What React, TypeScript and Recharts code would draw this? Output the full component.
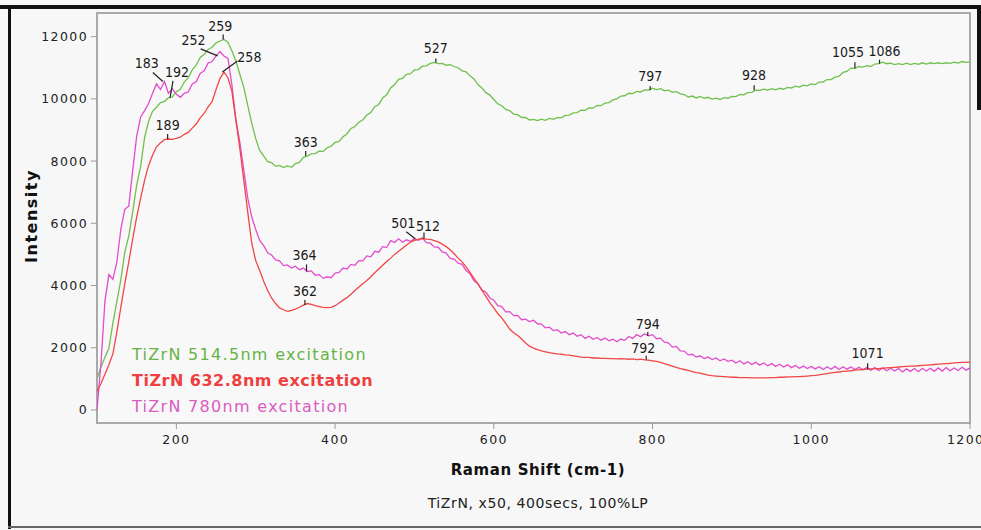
import React from 'react';
import { LineChart, Line, XAxis, YAxis, ReferenceArea, ReferenceDot } from 'recharts';

// Raman shift grid (cm-1)
const ramanShift = [
  100, 105, 110, 115, 120, 125, 130, 135, 140, 145,
  150, 155, 160, 165, 170, 175, 180, 185, 190, 195,
  200, 205, 210, 215, 220, 225, 230, 235, 240, 245,
  250, 255, 260, 265, 270, 275, 280, 285, 290, 295,
  300, 305, 310, 315, 320, 325, 330, 335, 340, 345,
  350, 355, 360, 365, 370, 375, 380, 385, 390, 395,
  400, 405, 410, 415, 420, 425, 430, 435, 440, 445,
  450, 455, 460, 465, 470, 475, 480, 485, 490, 495,
  500, 505, 510, 515, 520, 525, 530, 535, 540, 545,
  550, 555, 560, 565, 570, 575, 580, 585, 590, 595,
  600, 605, 610, 615, 620, 625, 630, 635, 640, 645,
  650, 655, 660, 665, 670, 675, 680, 685, 690, 695,
  700, 705, 710, 715, 720, 725, 730, 735, 740, 745,
  750, 755, 760, 765, 770, 775, 780, 785, 790, 795,
  800, 805, 810, 815, 820, 825, 830, 835, 840, 845,
  850, 855, 860, 865, 870, 875, 880, 885, 890, 895,
  900, 905, 910, 915, 920, 925, 930, 935, 940, 945,
  950, 955, 960, 965, 970, 975, 980, 985, 990, 995,
  1000, 1005, 1010, 1015, 1020, 1025, 1030, 1035, 1040, 1045,
  1050, 1055, 1060, 1065, 1070, 1075, 1080, 1085, 1090, 1095,
  1100, 1105, 1110, 1115, 1120, 1125, 1130, 1135, 1140, 1145,
  1150, 1155, 1160, 1165, 1170, 1175, 1180, 1185, 1190, 1195,
  1200,
];

// TiZrN, 514.5 nm excitation
const green514 = [
  1000, 1380, 1690, 1980, 2790, 3470, 4180, 5070, 5590, 6370,
  7230, 7830, 8760, 9280, 9600, 9730, 9880, 9920, 10030, 10060,
  10230, 10310, 10540, 10680, 10930, 11080, 11330, 11430, 11590, 11660,
  11800, 11860, 11910, 11820, 11540, 11220, 10790, 10360, 9780, 9210,
  8720, 8340, 8170, 7980, 7950, 7830, 7860, 7790, 7850, 7800,
  7920, 7960, 8120, 8160, 8230, 8240, 8320, 8310, 8430, 8480,
  8600, 8630, 8780, 8880, 9050, 9110, 9250, 9330, 9480, 9560,
  9750, 9820, 10030, 10130, 10350, 10460, 10630, 10660, 10790, 10810,
  10930, 10940, 11050, 11060, 11140, 11170, 11130, 11140, 11080, 11100,
  11040, 11000, 10900, 10870, 10740, 10640, 10460, 10350, 10200, 10120,
  9980, 9840, 9780, 9660, 9620, 9510, 9490, 9400, 9400, 9320,
  9340, 9300, 9350, 9310, 9370, 9340, 9400, 9390, 9470, 9480,
  9550, 9560, 9640, 9630, 9710, 9700, 9790, 9780, 9860, 9880,
  9970, 10000, 10090, 10100, 10180, 10170, 10240, 10220, 10290, 10280,
  10340, 10300, 10330, 10260, 10280, 10210, 10230, 10160, 10140, 10060,
  10090, 10030, 10080, 10020, 10050, 9990, 10020, 9980, 10040, 10020,
  10080, 10070, 10140, 10130, 10200, 10210, 10280, 10270, 10310, 10280,
  10330, 10290, 10340, 10310, 10370, 10350, 10410, 10380, 10440, 10420,
  10480, 10460, 10540, 10540, 10620, 10620, 10700, 10730, 10850, 10880,
  10990, 10980, 11040, 11020, 11070, 11040, 11120, 11130, 11180, 11130,
  11150, 11100, 11130, 11100, 11150, 11100, 11140, 11110, 11160, 11120,
  11160, 11130, 11160, 11130, 11160, 11140, 11180, 11150, 11200, 11170,
  11190,
];

// TiZrN, 632.8 nm excitation
const red633 = [
  600, 850, 1150, 1450, 1800, 2500, 3300, 4050, 4750, 5500,
  6200, 6810, 7390, 7860, 8190, 8460, 8590, 8690, 8710, 8700,
  8730, 8770, 8860, 8920, 9060, 9190, 9390, 9530, 9740, 9910,
  10300, 10660, 10860, 10680, 10240, 9300, 8400, 7380, 6350, 5350,
  4800, 4480, 4140, 3840, 3600, 3420, 3280, 3220, 3170, 3200,
  3240, 3300, 3370, 3420, 3390, 3350, 3320, 3300, 3290, 3300,
  3350, 3440, 3530, 3610, 3720, 3840, 3950, 4060, 4160, 4280,
  4410, 4530, 4650, 4770, 4880, 5000, 5100, 5200, 5300, 5390,
  5450, 5490, 5510, 5490, 5480, 5440, 5400, 5330, 5250, 5150,
  5020, 4880, 4760, 4600, 4420, 4230, 4050, 3850, 3650, 3450,
  3280, 3100, 2960, 2780, 2600, 2480, 2390, 2280, 2150, 2050,
  1990, 1940, 1900, 1870, 1840, 1820, 1800, 1790, 1770, 1760,
  1740, 1720, 1700, 1690, 1690, 1670, 1670, 1660, 1660, 1650,
  1650, 1640, 1650, 1640, 1630, 1640, 1620, 1630, 1610, 1600,
  1580, 1560, 1530, 1490, 1450, 1410, 1370, 1330, 1300, 1270,
  1230, 1200, 1180, 1150, 1120, 1100, 1090, 1080, 1070, 1060,
  1050, 1050, 1040, 1040, 1040, 1030, 1030, 1030, 1030, 1030,
  1040, 1040, 1050, 1050, 1060, 1060, 1070, 1070, 1080, 1090,
  1100, 1110, 1130, 1150, 1170, 1190, 1210, 1220, 1240, 1250,
  1260, 1280, 1290, 1300, 1310, 1320, 1330, 1330, 1340, 1350,
  1360, 1370, 1380, 1390, 1400, 1410, 1410, 1420, 1430, 1440,
  1450, 1460, 1470, 1480, 1490, 1500, 1510, 1520, 1530, 1530,
  1540,
];

// TiZrN, 780 nm excitation
const magenta780 = [
  0, 1500, 3500, 4350, 4200, 4750, 5800, 6450, 6550, 7700,
  8800, 9420, 9620, 9850, 10180, 10480, 10300, 10560, 10180, 10320,
  10150, 10050, 10180, 10220, 10480, 10550, 10820, 10900, 11150, 11200,
  11380, 11520, 11380, 11300, 10450, 9350, 8600, 7700, 6800, 6200,
  5800, 5450, 5280, 5050, 4980, 4820, 4790, 4640, 4660, 4560,
  4620, 4510, 4560, 4450, 4470, 4330, 4350, 4230, 4280, 4250,
  4400, 4420, 4560, 4530, 4680, 4650, 4800, 4790, 4950, 4920,
  5100, 5070, 5250, 5220, 5440, 5380, 5500, 5390, 5470, 5420,
  5500, 5450, 5530, 5380, 5360, 5240, 5230, 5080, 5040, 4870,
  4850, 4720, 4680, 4480, 4380, 4150, 4060, 3850, 3790, 3600,
  3530, 3350, 3320, 3150, 3160, 3030, 3040, 2900, 2920, 2840,
  2880, 2770, 2760, 2640, 2660, 2550, 2580, 2470, 2520, 2420,
  2470, 2370, 2420, 2300, 2370, 2270, 2330, 2240, 2310, 2220,
  2270, 2190, 2280, 2240, 2360, 2300, 2420, 2350, 2450, 2380,
  2420, 2290, 2310, 2180, 2160, 2020, 2040, 1900, 1890, 1770,
  1790, 1700, 1740, 1650, 1700, 1620, 1670, 1580, 1640, 1560,
  1600, 1510, 1580, 1480, 1550, 1460, 1530, 1440, 1510, 1420,
  1490, 1400, 1470, 1380, 1450, 1360, 1430, 1340, 1410, 1330,
  1400, 1320, 1390, 1300, 1390, 1310, 1400, 1300, 1390, 1310,
  1380, 1300, 1370, 1290, 1360, 1280, 1360, 1270, 1350, 1260,
  1340, 1250, 1330, 1220, 1320, 1240, 1330, 1230, 1340, 1250,
  1340, 1240, 1350, 1250, 1360, 1260, 1350, 1270, 1370, 1280,
  1350,
];

const xTicks = [200, 400, 600, 800, 1000, 1200];
const yTicks = [0, 2000, 4000, 6000, 8000, 10000, 12000];

// Peak positions marked on each spectrum
const greenPeaks = [192, 259, 363, 527, 797, 928, 1055, 1086];
const redPeaks = [189, 258, 362, 512, 792, 1071];
const magentaPeaks = [183, 252, 364, 501, 794];

const seriesInfo = [
  { key: 'g', name: 'TiZrN 514.5nm excitation', values: green514, peaks: greenPeaks, color: '#70c04c', text: '#66b444', weight: 400, spacing: 1.3 },
  { key: 'm', name: 'TiZrN 780nm excitation', values: magenta780, peaks: magentaPeaks, color: '#e24ccc', text: '#d95cc0', weight: 400, spacing: 1.3 },
  { key: 'r', name: 'TiZrN 632.8nm excitation', values: red633, peaks: redPeaks, color: '#f04646', text: '#ee4040', weight: 700, spacing: 0.5 },
];
const legendOrder = ['g', 'r', 'm'];

// Leader-line end (lx, ly) and label centre (tx, ty) relative to the peak point
const labelLayout: Record<number, { lx: number; ly: number; tx: number; ty: number }> = {
  183: { lx: -10, ly: -9, tx: -16, ty: -17 },
  192: { lx: 3, ly: -17, tx: 7, ty: -25 },
  189: { lx: 0, ly: -5, tx: 0, ty: -13 },
  252: { lx: -17, ly: -7, tx: -24, ty: -15 },
  259: { lx: 0, ly: -5, tx: -3, ty: -12 },
  258: { lx: 15, ly: -11, tx: 27, ty: -14 },
  363: { lx: 0, ly: -5, tx: 0, ty: -13 },
  364: { lx: 0, ly: -7, tx: -2, ty: -16 },
  362: { lx: 0, ly: -5, tx: 0, ty: -13 },
  501: { lx: -9, ly: -7, tx: -12, ty: -15 },
  512: { lx: 0, ly: -6, tx: 4, ty: -12 },
  527: { lx: 0, ly: -4, tx: 0, ty: -13 },
  794: { lx: 0, ly: -4, tx: 0, ty: -11 },
  792: { lx: 0, ly: -4, tx: -3, ty: -11 },
  797: { lx: 0, ly: -4, tx: 0, ty: -13 },
  928: { lx: 0, ly: -5, tx: 0, ty: -14 },
  1055: { lx: 0, ly: -6, tx: -7, ty: -15 },
  1086: { lx: 0, ly: -4, tx: 5, ty: -12 },
  1071: { lx: 0, ly: -6, tx: 0, ty: -15 },
};

const data = ramanShift.map((x, i) => ({ x, g: green514[i], r: red633[i], m: magenta780[i] }));

const nearestValue = (values: number[], shift: number) => {
  let best = 0;
  for (let i = 1; i < ramanShift.length; i++) {
    if (Math.abs(ramanShift[i] - shift) < Math.abs(ramanShift[best] - shift)) best = i;
  }
  return values[best];
};

const tickFont = { fontFamily: "'DejaVu Sans', sans-serif", fontSize: 12.5, fill: '#222', letterSpacing: 1.4 };
const peakFont = "'Liberation Sans Narrow', 'DejaVu Sans Condensed', 'Liberation Sans', sans-serif";

const PeakMark = (props: any) => {
  const { cx, cy, peak } = props;
  if (cx == null || cy == null) return null;
  const l = labelLayout[peak] || { lx: 0, ly: -5, tx: 0, ty: -13 };
  return (
    <g>
      <line x1={cx} y1={cy} x2={cx + l.lx} y2={cy + l.ly} stroke="#222" strokeWidth={1.2} />
      <text
        x={cx + l.tx}
        y={cy + l.ty}
        textAnchor="middle"
        dominantBaseline="middle"
        fontFamily={peakFont}
        fontSize={14}
        fill="#1a1a1a"
      >
        {peak}
      </text>
    </g>
  );
};

const LegendBox = () => (
  <div
    style={{
      position: 'absolute',
      left: 132,
      top: 342,
      fontFamily: "'DejaVu Sans', sans-serif",
      fontSize: 16,
      lineHeight: '26px',
    }}
  >
    {legendOrder.map((k) => {
      const s = seriesInfo.find((d) => d.key === k)!;
      return (
        <div key={k} style={{ color: s.text, fontWeight: s.weight, letterSpacing: s.spacing, whiteSpace: 'nowrap' }}>
          {s.name}
        </div>
      );
    })}
  </div>
);

export default function App() {
  return (
    <div
      style={{
        position: 'absolute',
        left: 0,
        top: 0,
        width: 981,
        height: 530,
        background: '#f7f7f7',
        overflow: 'hidden',
      }}
    >
      {/* outer frame */}
      <div style={{ position: 'absolute', left: 0, top: 5, width: 981, height: 4, background: '#111' }} />
      <div style={{ position: 'absolute', left: 8, top: 5, width: 3, height: 524, background: '#111' }} />
      <div style={{ position: 'absolute', left: 977, top: 5, width: 4, height: 105, background: '#111' }} />
      <div style={{ position: 'absolute', left: 8, top: 526, width: 973, height: 2, background: '#666' }} />

      <div style={{ position: 'absolute', left: 0, top: 0 }}>
        <LineChart width={981} height={530} data={data} margin={{ top: 13, right: 11, bottom: 77, left: 0 }}>
          <XAxis
            dataKey="x"
            type="number"
            domain={[100, 1200]}
            ticks={xTicks}
            allowDataOverflow
            height={30}
            tick={tickFont}
            tickSize={6}
            tickMargin={6}
            axisLine={false}
            tickLine={{ stroke: '#999' }}
          />
          <YAxis
            type="number"
            domain={[-420, 12760]}
            ticks={yTicks}
            allowDataOverflow
            width={97}
            tick={tickFont}
            tickSize={6}
            tickMargin={3}
            axisLine={false}
            tickLine={{ stroke: '#999' }}
          />
          <ReferenceArea x1={100} x2={1200} y1={-420} y2={12760} fill="#fafafa" stroke="#a9a9a9" strokeWidth={2} />
          {seriesInfo.map((s) => (
            <Line
              key={s.key}
              dataKey={s.key}
              name={s.name}
              type="linear"
              stroke={s.color}
              strokeWidth={1.3}
              dot={false}
              activeDot={false}
              isAnimationActive={false}
            />
          ))}
          {seriesInfo.map((s) =>
            s.peaks.map((p) => (
              <ReferenceDot
                key={`${s.key}-${p}`}
                x={p}
                y={nearestValue(s.values, p)}
                r={0}
                ifOverflow="visible"
                shape={(props: any) => <PeakMark {...props} peak={p} />}
              />
            ))
          )}
        </LineChart>
      </div>

      <LegendBox />

      {/* axis titles and caption */}
      <div
        style={{
          position: 'absolute',
          left: 31,
          top: 216,
          transform: 'translate(-50%, -50%) rotate(-90deg)',
          fontFamily: "'DejaVu Sans', sans-serif",
          fontWeight: 700,
          fontSize: 16,
          letterSpacing: 1.5,
          color: '#111',
          whiteSpace: 'nowrap',
        }}
      >
        Intensity
      </div>
      <div
        style={{
          position: 'absolute',
          left: 538,
          top: 470,
          transform: 'translate(-50%, -50%)',
          fontFamily: "'DejaVu Sans', sans-serif",
          fontWeight: 700,
          fontSize: 15,
          letterSpacing: 0.6,
          color: '#111',
          whiteSpace: 'nowrap',
        }}
      >
        Raman Shift (cm-1)
      </div>
      <div
        style={{
          position: 'absolute',
          left: 538,
          top: 503,
          transform: 'translate(-50%, -50%)',
          fontFamily: "'DejaVu Sans', sans-serif",
          fontSize: 14,
          letterSpacing: 0.6,
          color: '#222',
          whiteSpace: 'nowrap',
        }}
      >
        TiZrN, x50, 400secs, 100%LP
      </div>
    </div>
  );
}
